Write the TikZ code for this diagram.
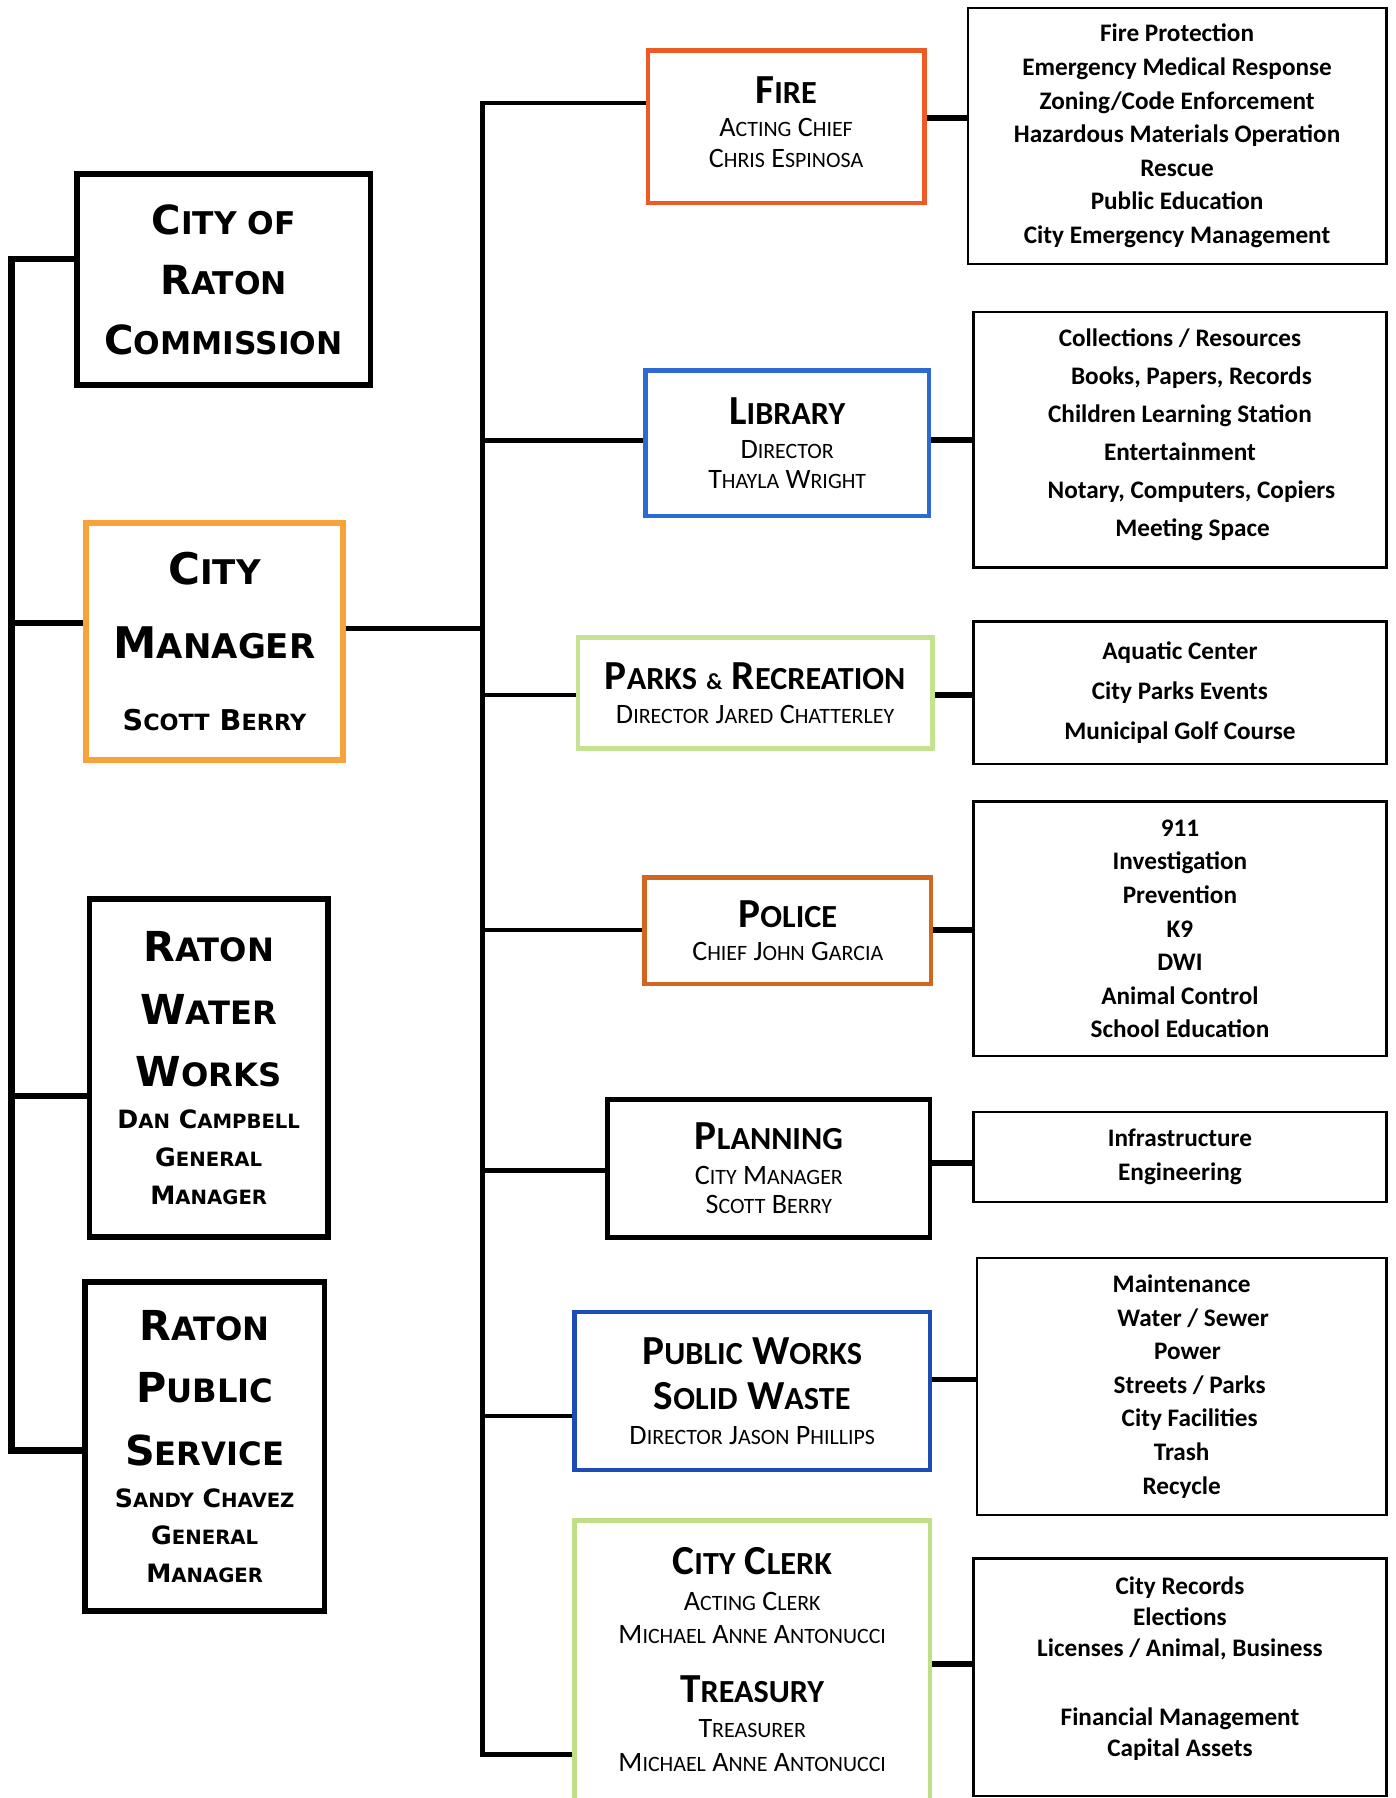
\documentclass[tikz,border=0pt]{standalone}
\usepackage{fontspec}
\setmainfont{Carlito}
\newfontfamily\widefont{DejaVu Sans}
\usetikzlibrary{calc}
\makeatletter
\newcommand\fsc[1]{{\fontsize{\fpeval{0.78*\f@size}}{\f@baselineskip}\selectfont\MakeUppercase{#1}}}
\makeatother
\definecolor{fireC}{RGB}{238,90,38}
\definecolor{cmC}{RGB}{248,163,58}
\definecolor{libC}{RGB}{45,106,211}
\definecolor{parksC}{RGB}{196,226,143}
\definecolor{polC}{RGB}{208,102,32}
\definecolor{pwC}{RGB}{28,77,181}
\definecolor{clerkC}{RGB}{190,223,133}
\tikzset{
  lbox/.style={draw, line width=5pt, align=center, inner sep=0pt,
    font=\widefont\bfseries\fontsize{35}{52.5}\selectfont},
  dept/.style={draw, line width=4pt, align=center, inner sep=0pt,
    font=\fontsize{24.5}{27}\selectfont},
  detail/.style={draw, line width=2pt, align=center, inner sep=0pt,
    font=\bfseries\fontsize{22}{29.3}\selectfont},
  lconn/.style={line width=5.5pt},
  rconn/.style={line width=4pt},
  dconn/.style={line width=5pt}
}
\newcommand\ttl{\bfseries\fontsize{36}{27}\selectfont}
\begin{document}
\begin{tikzpicture}[x=1pt,y=-1pt]
\fill[white] (0,0) rectangle (1217,1568);
\useasboundingbox (0,0) rectangle (1217,1568);

% left column
\node[lbox, minimum width=256pt, minimum height=184pt] (comm) at (195,244)
  {C\fsc{ity of}\\R\fsc{aton}\\C\fsc{ommission}};
\node[lbox, draw=cmC, minimum width=224pt, minimum height=207pt,
  font=\widefont\bfseries\fontsize{38}{64}\selectfont] (cm) at (187,559.5)
  {C\fsc{ity}\\M\fsc{anager}\\[-1pt]{\fontsize{25}{64}\selectfont S\fsc{cott} B\fsc{erry}}};
\node[lbox, minimum width=208pt, minimum height=295pt,
  font=\widefont\bfseries\fontsize{36}{54.5}\selectfont] (ww) at (182,931.5)
  {R\fsc{aton}\\W\fsc{ater}\\W\fsc{orks}\\[-18pt]%
   {\fontsize{22}{54.5}\selectfont D\fsc{an} C\fsc{ampbell}}\\[-21.5pt]%
   {\fontsize{22}{54.5}\selectfont G\fsc{eneral}}\\[-21.5pt]%
   {\fontsize{22}{54.5}\selectfont M\fsc{anager}}};
\node[lbox, minimum width=209pt, minimum height=287pt,
  font=\widefont\bfseries\fontsize{36}{54.5}\selectfont] (ps) at (178.5,1261.5)
  {R\fsc{aton}\\P\fsc{ublic}\\S\fsc{ervice}\\[-18pt]%
   {\fontsize{22}{54.5}\selectfont S\fsc{andy} C\fsc{havez}}\\[-21.5pt]%
   {\fontsize{22}{54.5}\selectfont G\fsc{eneral}}\\[-21.5pt]%
   {\fontsize{22}{54.5}\selectfont M\fsc{anager}}};

% departments
\node[dept, draw=fireC, minimum width=241pt, minimum height=133pt, text depth=8pt] (fire) at (685.5,110.5)
  {{\ttl F\fsc{ire}}\\[2pt]A\fsc{cting} C\fsc{hief}\\C\fsc{hris} E\fsc{spinosa}};
\node[dept, draw=libC, minimum width=247pt, minimum height=127pt] (lib) at (686.5,386.5)
  {{\ttl L\fsc{ibrary}}\\[2pt]D\fsc{irector}\\[-1pt]T\fsc{hayla} W\fsc{right}};
\node[dept, draw=parksC, minimum width=309pt, minimum height=97pt] (parks) at (658.5,604.5)
  {{\ttl P\fsc{arks} {\fontsize{20}{27}\selectfont\&} R\fsc{ecreation}}\\[2pt]D\fsc{irector} J\fsc{ared} C\fsc{hatterley}};
\node[dept, draw=polC, minimum width=250pt, minimum height=93pt] (police) at (687,811.5)
  {{\ttl P\fsc{olice}}\\[2pt]C\fsc{hief} J\fsc{ohn} G\fsc{arcia}};
\node[dept, minimum width=281pt, minimum height=120pt] (plan) at (670.5,1019)
  {{\ttl P\fsc{lanning}}\\[3pt]C\fsc{ity} M\fsc{anager}\\[-1pt]S\fsc{cott} B\fsc{erry}};
\node[dept, draw=pwC, minimum width=310pt, minimum height=138pt] (pw) at (656,1213)
  {{\ttl P\fsc{ublic} W\fsc{orks}}\\[13pt]{\ttl S\fsc{olid} W\fsc{aste}}\\[3pt]D\fsc{irector} J\fsc{ason} P\fsc{hillips}};
\node[dept, draw=clerkC, minimum width=310pt, minimum height=254pt, text depth=11pt] (clerk) at (656,1453)
  {{\ttl C\fsc{ity} C\fsc{lerk}}\\[4pt]A\fsc{cting} C\fsc{lerk}\\[2pt]M\fsc{ichael} A\fsc{nne} A\fsc{ntonucci}\\[24pt]%
   {\ttl T\fsc{reasury}}\\[4pt]T\fsc{reasurer}\\[3pt]M\fsc{ichael} A\fsc{nne} A\fsc{ntonucci}};

% details
\node[detail, minimum width=365pt, minimum height=223pt] (dfire) at (1026.5,118.5)
  {Fire Protection\\Emergency Medical Response\\Zoning/Code Enforcement\\Hazardous Materials Operation\\Rescue\\Public Education\\City Emergency Management};
\node[detail, minimum width=360pt, minimum height=223pt, text depth=12pt,
  font=\bfseries\fontsize{22}{33.2}\selectfont] (dlib) at (1029,383.5)
  {Collections / Resources\\\hspace*{20pt}Books, Papers, Records\\Children Learning Station\\Entertainment\\\hspace*{20pt}Notary, Computers, Copiers\\\hspace*{22pt}Meeting Space};
\node[detail, minimum width=360pt, minimum height=124pt,
  font=\bfseries\fontsize{22}{34.5}\selectfont] (dparks) at (1029,604)
  {Aquatic Center\\City Parks Events\\Municipal Golf Course};
\node[detail, minimum width=360pt, minimum height=222pt] (dpol) at (1029,810)
  {911\\Investigation\\Prevention\\K9\\DWI\\Animal Control\\School Education};
\node[detail, minimum width=360pt, minimum height=78pt,
  font=\bfseries\fontsize{22}{30}\selectfont] (dplan) at (1029,1009)
  {Infrastructure\\Engineering};
\node[detail, minimum width=357pt, minimum height=224pt] (dpw) at (1030.5,1209)
  {Maintenance\\\hspace*{20pt}Water / Sewer\\\hspace*{10pt}Power\\\hspace*{14pt}Streets / Parks\\\hspace*{14pt}City Facilities\\Trash\\Recycle};
\node[detail, minimum width=360pt, minimum height=207pt, text depth=18pt,
  font=\bfseries\fontsize{22}{27}\selectfont] (dclerk) at (1029,1462.5)
  {City Records\\Elections\\Licenses / Animal, Business\\[33pt]Financial Management\\Capital Assets};

% junction coordinates
\coordinate (lt) at (10,226);
\coordinate (l2) at (10,543);
\coordinate (l3) at (10,956);
\coordinate (lb) at (10,1265);
\coordinate (rt) at (421,90);
\coordinate (rcm) at (421,548);
\coordinate (r2) at (421,384);
\coordinate (r3) at (421,606);
\coordinate (r4) at (421,811);
\coordinate (r5) at (421,1021);
\coordinate (r6) at (421,1235);
\coordinate (rb) at (421,1530);
\coordinate (yf) at (0,103);
\coordinate (yl) at (0,384);
\coordinate (yp) at (0,606);
\coordinate (ypo) at (0,811);
\coordinate (ypl) at (0,1014);
\coordinate (ypw) at (0,1203);
\coordinate (yc) at (0,1451);

% left connectors
\draw[lconn] (comm.west |- lt) -- (lt) -- (lb) -- (ps.west |- lb);
\draw[lconn] (l2) -- (cm.west |- l2);
\draw[lconn] (l3) -- (ww.west |- l3);

% right connectors
\draw[rconn] (cm.east |- rcm) -- (rcm);
\draw[rconn] (fire.west |- rt) -- (rt) -- (rb) -- (clerk.west |- rb);
\draw[rconn] (r2) -- (lib.west |- r2);
\draw[rconn] (r3) -- (parks.west |- r3);
\draw[rconn] (r4) -- (police.west |- r4);
\draw[rconn] (r5) -- (plan.west |- r5);
\draw[rconn] (r6) -- (pw.west |- r6);

% department to detail
\draw[dconn] (fire.east |- yf) -- (dfire.west |- yf);
\draw[dconn] (lib.east |- yl) -- (dlib.west |- yl);
\draw[dconn] (parks.east |- yp) -- (dparks.west |- yp);
\draw[dconn] (police.east |- ypo) -- (dpol.west |- ypo);
\draw[dconn] (plan.east |- ypl) -- (dplan.west |- ypl);
\draw[dconn] (pw.east |- ypw) -- (dpw.west |- ypw);
\draw[dconn] (clerk.east |- yc) -- (dclerk.west |- yc);
\end{tikzpicture}
\end{document}
